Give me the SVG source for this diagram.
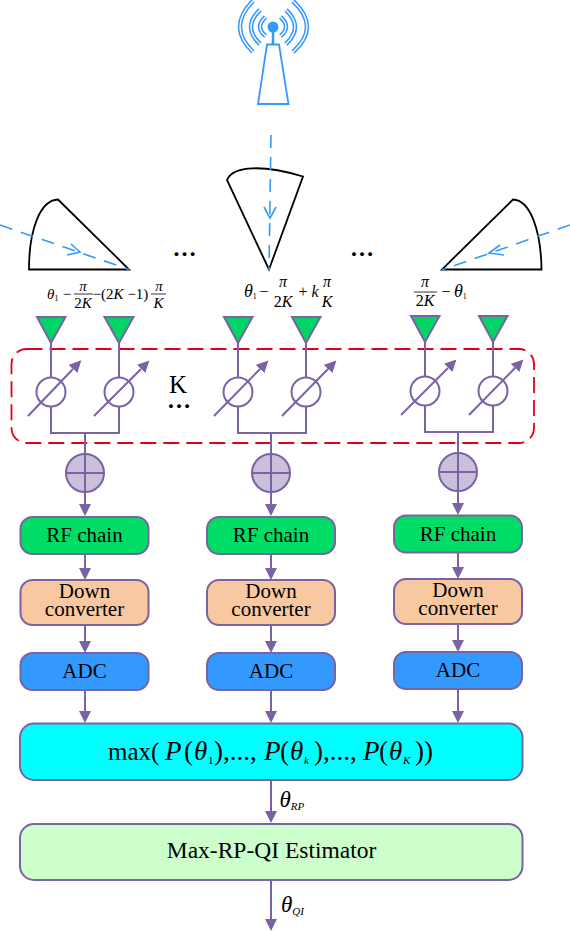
<svg xmlns="http://www.w3.org/2000/svg" width="570" height="932" viewBox="0 0 570 932">
<style>
text{font-family:"Liberation Serif","Times New Roman",serif;fill:#000}
.lb{font-size:21px;text-anchor:middle}
.m{font-size:15px;text-anchor:middle}
.n{font-size:16px;text-anchor:middle}
.i{font-style:italic}
.c{fill:none;stroke:#7a62a3;stroke-width:2}
.box{stroke:#7a62a3;stroke-width:2}
.ant{fill:#00d566;stroke:#7a62a3;stroke-width:2}
.ps{fill:#fff;stroke:#7a62a3;stroke-width:2}
.add{fill:#cbc0dc;stroke:#7a62a3;stroke-width:2}
.sec{fill:none;stroke:#000;stroke-width:1.800}
.ray{fill:none;stroke:#3399ff;stroke-width:1.600;stroke-dasharray:13 9}
.chev{fill:none;stroke:#3399ff;stroke-width:1.600}
.wb{fill:none;stroke:#3399ff;stroke-width:4.500}
.wi{fill:none;stroke:#fff;stroke-width:1.400}
.rf{fill:#00dd66}.dc{fill:#f8c8a0}.ad{fill:#3399ff}
</style>
<defs>
<marker id="h" markerUnits="userSpaceOnUse" markerWidth="14" markerHeight="14" refX="0" refY="6" orient="auto"><path d="M0,0L12,6L0,12Z" fill="#7a62a3"/></marker>
</defs>
<g id="tower">
<path d="M267,44.500H279L288.500,104H258Z" fill="#fff" stroke="#3399ff" stroke-width="1.800"/>
<path d="M273,27V44" stroke="#3399ff" stroke-width="2.500"/>
<circle cx="273" cy="27" r="5.500" fill="#3399ff"/>
<g id="waves">
<path class="wb" d="M253,1Q227,27 253,52M260,10Q242,27 260,44M265.500,17Q254.500,27 265.500,36M293,1Q321,27 293,52M286,10Q304,27 286,44M280.500,17Q291.500,27 280.500,36"/>
<path class="wi" d="M253,1Q227,27 253,52M260,10Q242,27 260,44M265.500,17Q254.500,27 265.500,36M293,1Q321,27 293,52M286,10Q304,27 286,44M280.500,17Q291.500,27 280.500,36"/>
</g>
</g>
<g id="sector-left">
<path class="sec" d="M29,269.500H129L58,199.500C40,200 29,230 29,269.500Z"/>
<path class="ray" d="M0,225L129,269.500"/>
<path class="chev" d="M71,244L80,252L67,255"/>
</g>
<g id="sector-mid">
<path class="sec" d="M269,269.500L227,180C233,165 265,165 303,176.500Z"/>
<path class="ray" d="M271,135L269,270"/>
<path class="chev" d="M264,207L270,218L276,207"/>
</g>
<g id="sector-right">
<path class="sec" d="M442,269.500H541.500C541,230 530,200 513,199.500Z"/>
<path class="ray" d="M570,225L442,270"/>
<path class="chev" d="M500,245L489,253L504,255"/>
</g>
<text id="dots1" x="184.500" y="256" font-size="24" font-weight="bold" text-anchor="middle">…</text>
<text id="dots2" x="362" y="256" font-size="24" font-weight="bold" text-anchor="middle">…</text>
<g id="label-left">
<text class="i" x="47" y="299" font-size="15">θ<tspan font-size="8" font-style="normal" dy="2">1</tspan></text>
<text class="m" x="67" y="299">−</text>
<text class="m i" x="83" y="291">π</text><path d="M74,294H93" stroke="#000" stroke-width=".8"/><text class="m" x="83" y="307.500">2<tspan class="i">K</tspan></text>
<text class="m" x="120.500" y="299">−(2<tspan class="i">K</tspan> −1)</text>
<text class="m i" x="159" y="291">π</text><path d="M151,294H166" stroke="#000" stroke-width=".8"/><text class="m i" x="158.500" y="307.500">K</text>
</g>
<g id="label-mid">
<text class="i" x="244" y="297" font-size="18">θ<tspan font-size="8" font-style="normal" dy="2">1</tspan></text>
<text class="n" x="264" y="297">−</text>
<text class="n i" x="283" y="287">π</text><text class="n" x="283" y="307">2<tspan class="i">K</tspan></text>
<text class="n" x="303" y="297">+</text><text class="n i" x="315" y="297">k</text>
<text class="n i" x="327" y="287">π</text><text class="n i" x="327" y="307">K</text>
</g>
<g id="label-right">
<text class="n i" x="425" y="287">π</text><path d="M414,292H437" stroke="#000" stroke-width=".8"/><text class="n" x="425" y="306">2<tspan class="i">K</tspan></text>
<text class="n" x="446" y="297">−</text>
<text class="i" x="454" y="297" font-size="18">θ<tspan font-size="8" font-style="normal" dy="2">1</tspan></text>
</g>
<rect id="k-group" x="11.500" y="349" width="522.500" height="94" rx="15" fill="none" stroke="#e4001a" stroke-width="1.800" stroke-dasharray="16 7"/>
<text id="k-label" x="178" y="393" font-size="25" text-anchor="middle">K</text>
<text id="k-dots" x="179" y="408" font-size="24" font-weight="bold" text-anchor="middle">…</text>
<g id="connectors">
<path class="c" d="M51,343V377.500M51,406.500V433H119V406.500M119,343V377.500"/>
<path class="c" d="M238,343V377.500M238,406.500V433H306V406.500M306,343V377.500"/>
<path class="c" d="M425,342V376.500M425,405.500V432H493V405.500M493,342V376.500"/>
<path class="c" d="M85,433V454M271,433V454M458,432V453"/>
<path class="c" marker-end="url(#h)" d="M85,492V504"/>
<path class="c" marker-end="url(#h)" d="M271,492V504"/>
<path class="c" marker-end="url(#h)" d="M458,491V503"/>
<path class="c" marker-end="url(#h)" d="M85,554V568"/>
<path class="c" marker-end="url(#h)" d="M271,554V568"/>
<path class="c" marker-end="url(#h)" d="M458,553V567"/>
<path class="c" marker-end="url(#h)" d="M85,625V641"/>
<path class="c" marker-end="url(#h)" d="M271,625V641"/>
<path class="c" marker-end="url(#h)" d="M458,624V640"/>
<path class="c" marker-end="url(#h)" d="M85,690V711"/>
<path class="c" marker-end="url(#h)" d="M271,690V711"/>
<path class="c" marker-end="url(#h)" d="M458,689V711"/>
<path class="c" marker-end="url(#h)" d="M271,780V811"/>
<path class="c" marker-end="url(#h)" d="M271,880V919"/>
</g>
<g id="ant1"><path class="ant" d="M37,317H65.500L51,343Z"/></g>
<g id="ant2"><path class="ant" d="M104.500,317H133.500L119,343Z"/></g>
<g id="ant3"><path class="ant" d="M224,317H252.500L238,343Z"/></g>
<g id="ant4"><path class="ant" d="M292,317H320.500L306,343Z"/></g>
<g id="ant5"><path class="ant" d="M411,316H439.500L425,342Z"/></g>
<g id="ant6"><path class="ant" d="M479,316H507.500L493,342Z"/></g>
<g id="ps1"><circle class="ps" cx="51" cy="392" r="14.500"/><path class="c" marker-end="url(#h)" d="M28,416L73,369"/></g>
<g id="ps2"><circle class="ps" cx="119" cy="392" r="14.500"/><path class="c" marker-end="url(#h)" d="M94,416L141,369"/></g>
<g id="ps3"><circle class="ps" cx="238" cy="392" r="14.500"/><path class="c" marker-end="url(#h)" d="M214,416L260,369"/></g>
<g id="ps4"><circle class="ps" cx="306" cy="392" r="14.500"/><path class="c" marker-end="url(#h)" d="M282,416L328,369"/></g>
<g id="ps5"><circle class="ps" cx="425" cy="391" r="14.500"/><path class="c" marker-end="url(#h)" d="M401,415L448,368"/></g>
<g id="ps6"><circle class="ps" cx="493" cy="391" r="14.500"/><path class="c" marker-end="url(#h)" d="M469,415L515,368"/></g>
<g id="add1"><circle class="add" cx="85" cy="473" r="19"/><path class="c" d="M66,473H104M85,454V492"/></g>
<g id="add2"><circle class="add" cx="271" cy="473" r="19"/><path class="c" d="M252,473H290M271,454V492"/></g>
<g id="add3"><circle class="add" cx="458" cy="472" r="19"/><path class="c" d="M439,472H477M458,453V491"/></g>
<g id="rf1"><rect class="box rf" x="20.500" y="517" width="128" height="37" rx="12"/><text class="lb" x="84.500" y="542">RF chain</text></g>
<g id="rf2"><rect class="box rf" x="207" y="517" width="128" height="37" rx="12"/><text class="lb" x="271" y="542">RF chain</text></g>
<g id="rf3"><rect class="box rf" x="394" y="515.500" width="128" height="37" rx="12"/><text class="lb" x="458" y="540.500">RF chain</text></g>
<g id="dc1"><rect class="box dc" x="20.500" y="580" width="128" height="45" rx="12"/><text class="lb" x="84.500" y="598">Down</text><text class="lb" x="84.500" y="615.500">converter</text></g>
<g id="dc2"><rect class="box dc" x="207" y="580" width="128" height="45" rx="12"/><text class="lb" x="271" y="598">Down</text><text class="lb" x="271" y="615.500">converter</text></g>
<g id="dc3"><rect class="box dc" x="394" y="579" width="128" height="45" rx="12"/><text class="lb" x="458" y="597">Down</text><text class="lb" x="458" y="614.500">converter</text></g>
<g id="adc1"><rect class="box ad" x="20.500" y="653" width="128" height="37" rx="12"/><text class="lb" x="84.500" y="678">ADC</text></g>
<g id="adc2"><rect class="box ad" x="207" y="653" width="128" height="37" rx="12"/><text class="lb" x="271" y="678">ADC</text></g>
<g id="adc3"><rect class="box ad" x="394" y="652" width="128" height="37" rx="12"/><text class="lb" x="458" y="677">ADC</text></g>
<g id="max"><rect class="box" fill="#00ffff" x="20" y="723.500" width="502.500" height="56.500" rx="14"/>
<text x="108" y="760" font-size="25">max(<tspan class="i" x="165" font-size="27">P</tspan><tspan x="184" font-size="27">(</tspan><tspan class="i" x="194" font-size="27">θ</tspan><tspan x="208" dy="4" font-size="11">1</tspan><tspan x="214" dy="-4" font-size="27">),...,</tspan><tspan class="i" x="264" font-size="27">P</tspan><tspan x="280" font-size="27">(</tspan><tspan class="i" x="290" font-size="27">θ</tspan><tspan class="i" x="304" dy="4" font-size="11">k</tspan><tspan x="314" dy="-4" font-size="27">),...,</tspan><tspan class="i" x="363" font-size="27">P</tspan><tspan x="379" font-size="27">(</tspan><tspan class="i" x="389" font-size="27">θ</tspan><tspan class="i" x="403" dy="4" font-size="11">K</tspan><tspan x="415" dy="-4" font-size="27">))</tspan></text></g>
<g id="estimator"><rect class="box" fill="#ccffcc" x="20" y="824" width="502.500" height="56" rx="14"/><text x="271.500" y="858" font-size="23.500" text-anchor="middle">Max-RP-QI Estimator</text></g>
<text id="theta-rp" class="i" x="279.500" y="807" font-size="23">θ<tspan font-size="11" dy="3">RP</tspan></text>
<text id="theta-qi" class="i" x="281" y="912" font-size="23">θ<tspan font-size="11" dy="3">QI</tspan></text>
</svg>
